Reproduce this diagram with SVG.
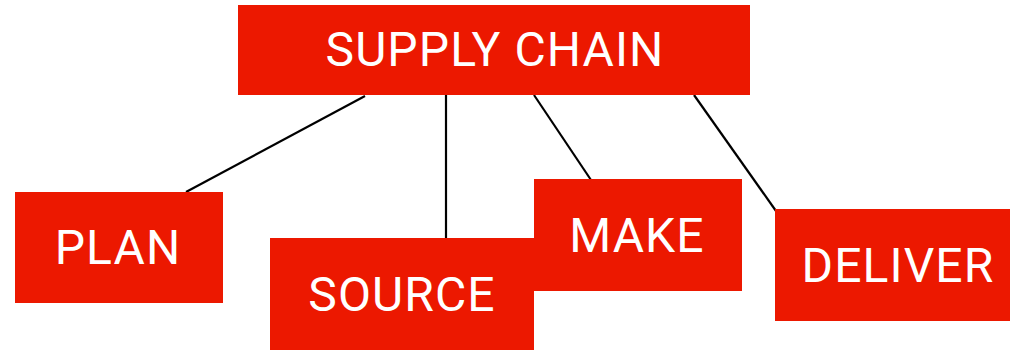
<svg xmlns="http://www.w3.org/2000/svg" width="1010" height="350" viewBox="0 0 1010 350">
<style>
.box{fill:#EC1800}
.lbl{fill:#fff;font-family:Roboto,"Liberation Sans",sans-serif;font-size:48px;letter-spacing:1.1px;text-anchor:middle}
.edge{stroke:#000;stroke-width:2.2;fill:none}
</style>
<rect width="1010" height="350" fill="#fff"/>
<g id="connectors">
<line class="edge" x1="365" y1="96" x2="186" y2="192"/>
<line class="edge" x1="446" y1="93" x2="446" y2="238"/>
<line class="edge" x1="534" y1="95" x2="591" y2="180"/>
<line class="edge" x1="694" y1="95" x2="776" y2="211"/>
</g>
<g id="supply-chain">
<rect class="box" x="238" y="5" width="512" height="90"/>
<text class="lbl" x="495" y="66">SUPPLY CHAIN</text>
</g>
<g id="plan">
<rect class="box" x="15" y="192" width="208" height="111"/>
<text class="lbl" x="118" y="264">PLAN</text>
</g>
<g id="make">
<rect class="box" x="534" y="179" width="208" height="112"/>
<text class="lbl" x="637" y="252">MAKE</text>
</g>
<g id="source">
<rect class="box" x="270" y="238" width="264" height="112"/>
<text class="lbl" x="402" y="311">SOURCE</text>
</g>
<g id="deliver">
<rect class="box" x="775" y="209" width="246" height="112"/>
<text class="lbl" x="898" y="282">DELIVER</text>
</g>
</svg>
